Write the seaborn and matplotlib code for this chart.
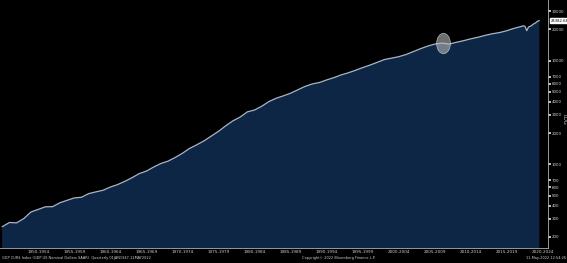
import numpy as np
import pandas as pd
import matplotlib
matplotlib.use("Agg")
import matplotlib.pyplot as plt
from matplotlib.path import Path
import seaborn as sns

# ---- data (US nominal GDP, SAAR, billions USD) ----
years = [1947.5, 1948.5, 1949.5, 1950.5, 1951.5, 1952.5, 1953.5, 1954.5, 1955.5, 1956.5,
         1957.5, 1958.5, 1959.5, 1960.5, 1961.5, 1962.5, 1963.5, 1964.5, 1965.5, 1966.5,
         1967.5, 1968.5, 1969.5, 1970.5, 1971.5, 1972.5, 1973.5, 1974.5, 1975.5, 1976.5,
         1977.5, 1978.5, 1979.5, 1980.5, 1981.5, 1982.5, 1983.5, 1984.5, 1985.5, 1986.5,
         1987.5, 1988.5, 1989.5, 1990.5, 1991.5, 1992.5, 1993.5, 1994.5, 1995.5, 1996.5,
         1997.5, 1998.5, 1999.5, 2000.5, 2001.5, 2002.5, 2003.5, 2004.5, 2005.5, 2006.5,
         2007.5, 2008.5, 2009.5, 2010.5, 2011.5, 2012.5, 2013.5, 2014.5, 2015.5, 2016.5,
         2017.5, 2018.5, 2019.5, 2019.75, 2020.0, 2020.25, 2020.5, 2020.75, 2021.0, 2021.25,
         2021.5, 2021.75, 2022.0]
gdp = [249.9, 274.5, 272.5, 299.8, 346.9, 367.3, 389.2, 390.5, 425.5, 449.4,
       474.0, 481.2, 521.7, 542.4, 562.2, 603.9, 637.5, 684.5, 742.3, 813.4,
       860.0, 940.7, 1017.6, 1073.3, 1164.8, 1279.1, 1425.4, 1545.2, 1684.9, 1873.4,
       2081.8, 2351.6, 2627.3, 2857.3, 3207.0, 3343.8, 3634.0, 4037.6, 4339.0, 4579.6,
       4855.2, 5236.4, 5641.6, 5963.1, 6158.1, 6520.3, 6858.6, 7287.2, 7639.7, 8073.1,
       8577.6, 9062.8, 9631.2, 10251.0, 10581.9, 10929.1, 11456.5, 12217.2, 13039.2, 13815.6,
       14474.2, 14769.9, 14478.1, 15049.0, 15599.7, 16254.0, 16843.2, 17550.7, 18206.0, 18695.1,
       19477.3, 20533.1, 21381.0, 21694.5, 21481.4, 19477.4, 21138.6, 21477.6, 22038.2, 22740.9,
       23202.3, 24002.8, 24382.68]

period_starts = list(range(1950, 2025, 5))
period_labels = [f"{y}-{y + 4}" for y in range(1950, 2021, 5)]
ytick_values = [200, 300, 400, 500, 600, 700, 1000, 2000, 3000, 4000, 5000, 6000, 7000,
                10000, 20000, 30000]
last_value = gdp[-1]
highlight_year = 2008.7
highlight_value = 14830

df = pd.DataFrame({"year": years, "gdp": gdp})

# ---- style ----
sns.set_style("dark", {"axes.facecolor": "black", "figure.facecolor": "black"})
FONT = ["Liberation Sans Narrow", "DejaVu Sans"]
plt.rcParams["font.family"] = FONT

fig = plt.figure(figsize=(5.67, 2.63), dpi=100)
fig.patch.set_facecolor("black")
ax = fig.add_axes([0.0, 0.058, 0.9665, 0.942])
ax.set_facecolor("black")

fill_color = "#0e2645"
ax.fill_between(df["year"], df["gdp"], 1, color=fill_color, lw=0, zorder=1)
sns.lineplot(data=df, x="year", y="gdp", ax=ax, color="#aab4c2", lw=0.9, zorder=2)

ax.set_yscale("log")
ax.set_xlim(1947.2, 2023.2)
ax.set_ylim(156.7, 38500)

# highlight ellipse
ell = Path.unit_circle()
ell = Path(ell.vertices * np.array([0.68, 1.0]), ell.codes)
ax.scatter([highlight_year], [highlight_value], marker=ell, s=215,
           facecolor="#b8b8b8", alpha=0.6, edgecolor="#e0e0e0", linewidth=0.6, zorder=3)

# spines
for s in ["top", "left"]:
    ax.spines[s].set_visible(False)
for s in ["right", "bottom"]:
    ax.spines[s].set_visible(True)
    ax.spines[s].set_color("#b0b0b0")
    ax.spines[s].set_linewidth(0.6)

# y axis on right
ax.yaxis.tick_right()
ax.set_yticks(ytick_values)
ax.set_yticklabels([str(v) for v in ytick_values])
ax.yaxis.set_minor_locator(matplotlib.ticker.NullLocator())
ax.tick_params(axis="y", which="major", direction="out", length=1.8, width=1.2,
               color="#e0e0e0", labelsize=2.9, labelcolor="#d8d8d8", pad=0.6)

# x axis: period boundaries as major ticks, yearly minor ticks, labels in between
ax.set_xticks(period_starts)
ax.set_xticklabels([])
ax.set_xticks(range(1948, 2024), minor=True)
ax.tick_params(axis="x", which="major", direction="out", length=5, width=0.6, color="#b0b0b0")
ax.tick_params(axis="x", which="minor", direction="out", length=1.2, width=0.5, color="#b0b0b0")
ax.grid(False)
ax.set_xlabel("")
ax.set_ylabel("")

xtr = ax.get_xaxis_transform()
for start, lab in zip(period_starts, period_labels):
    ax.text(start + 2.5, -0.018, lab, transform=xtr, ha="center", va="center",
            fontsize=3.0, color="#d0d0d0", clip_on=False)

# last value tag
ax.annotate(f"{last_value:.2f}", xy=(1.0, last_value), xycoords=("axes fraction", "data"),
            xytext=(1.6, 0), textcoords="offset points", ha="left", va="center",
            fontsize=2.7, color="black", annotation_clip=False,
            bbox=dict(boxstyle="square,pad=0.12", fc="white", ec="white"))

# LOG label
fig.text(0.9955, 0.545, "LOG", rotation=270, ha="center", va="center",
         fontsize=3.8, color="#c8c8c8")

# footer
fig.text(0.004, 0.018, "GDP CUR$ Index (GDP US Nominal Dollars SAAR)  Quarterly 01JAN1947-12MAY2022",
         fontsize=2.55, color="#d0d0d0", ha="left", va="center")
fig.text(0.532, 0.018, "Copyright\u00a9 2022 Bloomberg Finance L.P.",
         fontsize=2.5, color="#d0d0d0", ha="left", va="center")
fig.text(0.998, 0.018, "11-May-2022 12:54:26",
         fontsize=2.5, color="#d0d0d0", ha="right", va="center")

fig.savefig("out.png", dpi=100, facecolor="black")
